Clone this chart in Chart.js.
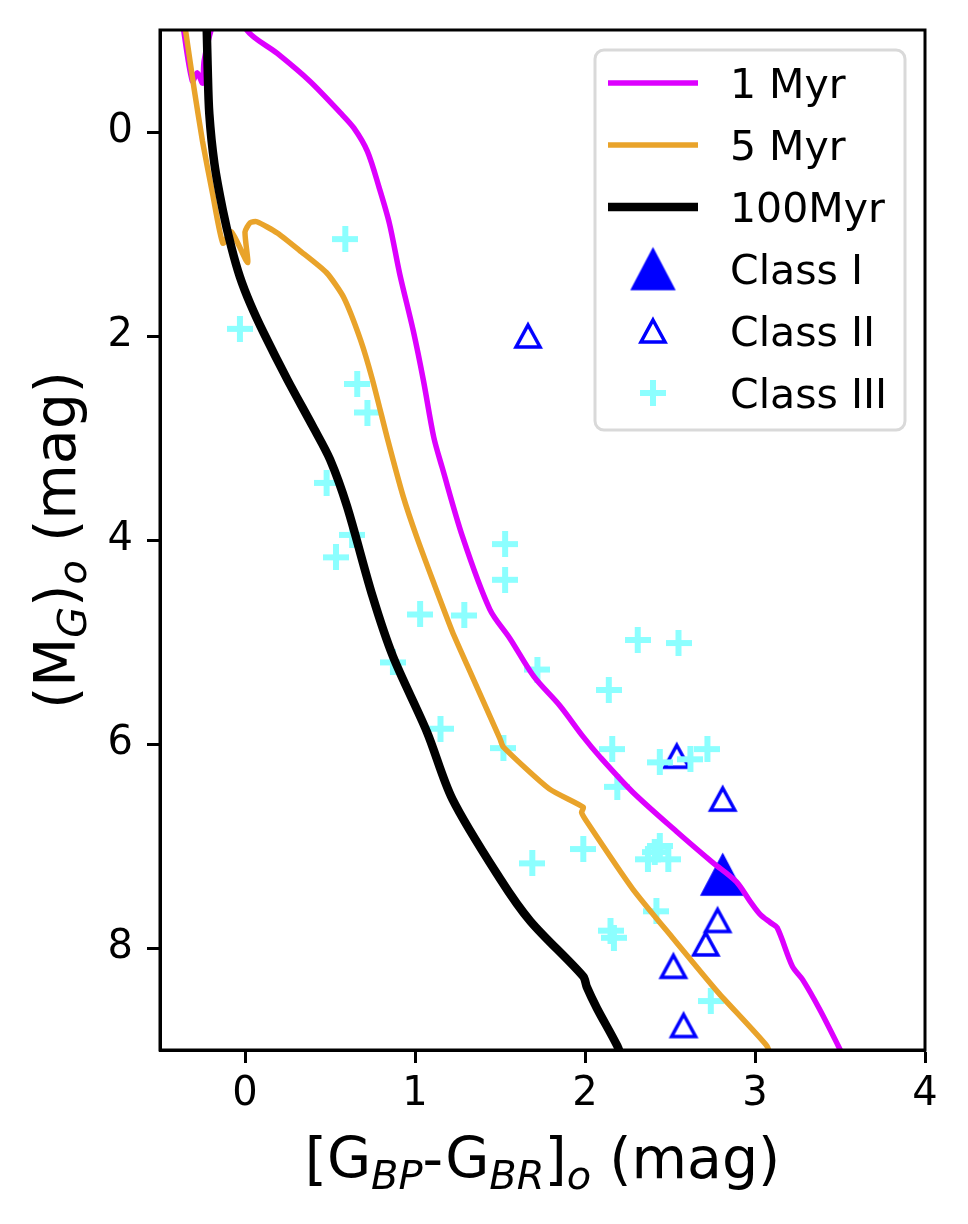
<!DOCTYPE html>
<html>
<head>
<meta charset="utf-8">
<script src="https://cdn.jsdelivr.net/npm/chart.js@4/dist/chart.umd.min.js"></script>
<style>
  html, body { margin: 0; padding: 0; background: #fff; }
  #wrap { width: 968px; height: 1224px; }
</style>
</head>
<body>
<div id="wrap"><canvas id="cmd" width="968" height="1224"></canvas></div>
<script>
// isochrones (colour, abs. magnitude)
var myr1X = [-0.37, -0.31, -0.28, -0.25, -0.24, -0.19, -0.12, -0.03, 0.01, 0.19, 0.38, 0.56, 0.64, 0.72, 0.79, 0.85, 0.91, 0.99, 1.05, 1.11, 1.16, 1.28, 1.44, 1.56, 1.70, 1.85, 1.99, 2.09, 2.28, 2.54, 2.75, 2.89, 2.97, 3.03, 3.09, 3.13, 3.22, 3.28, 3.38, 3.49, 3.53];
var myr1Y = [-1.1, -0.5, -0.58, -0.48, -0.7, -1.05, -1.3, -1.3, -1.0, -0.77, -0.5, -0.19, -0.04, 0.19, 0.55, 0.9, 1.39, 1.95, 2.44, 2.99, 3.29, 3.97, 4.68, 4.97, 5.34, 5.62, 5.93, 6.13, 6.47, 6.86, 7.16, 7.35, 7.54, 7.67, 7.75, 7.8, 8.18, 8.31, 8.6, 8.96, 9.1];

var myr5X = [-0.36, -0.35, -0.30, -0.25, -0.19, -0.13, -0.08, 0.015, 0.0, 0.03, 0.07, 0.19, 0.32, 0.48, 0.58, 0.68, 0.75, 0.84, 0.93, 1.01, 1.11, 1.22, 1.31, 1.50, 1.52, 1.79, 1.99, 1.98, 2.01, 2.28, 2.52, 2.78, 3.07, 3.10];
var myr5Y = [-1.1, -1.0, -0.43, 0.09, 0.61, 1.09, 0.98, 1.28, 0.98, 0.89, 0.88, 0.99, 1.16, 1.38, 1.62, 2.04, 2.43, 3.02, 3.57, 3.97, 4.42, 4.90, 5.24, 5.95, 6.03, 6.44, 6.62, 6.67, 6.76, 7.42, 7.91, 8.43, 8.96, 9.1];

var myr100X = [-0.23, -0.225, -0.22, -0.21, -0.18, -0.13, -0.08, -0.03, 0.03, 0.11, 0.25, 0.40, 0.50, 0.60, 0.75, 0.87, 1.07, 1.22, 1.50, 1.68, 1.99, 2.01, 2.07, 2.19, 2.22];
var myr100Y = [-1.2, -1.0, -0.66, -0.18, 0.31, 0.77, 1.13, 1.42, 1.68, 1.97, 2.43, 2.89, 3.21, 3.67, 4.55, 5.14, 5.88, 6.54, 7.32, 7.74, 8.28, 8.38, 8.59, 8.96, 9.1];

// YSO classes
var class1X = [2.81];
var class1Y = [7.28];
var class2X = [1.665, 2.54, 2.81, 2.78, 2.71, 2.52, 2.58];
var class2Y = [2.0, 6.12, 6.54, 7.73, 7.96, 8.18, 8.76];
var class3X = [0.59, -0.03, 0.66, 0.72, 0.48, 0.63, 0.535, 1.53, 1.53, 1.03, 1.29, 0.87, 1.72, 1.15, 2.31, 2.55, 2.14, 1.52, 2.16, 2.72, 2.44, 2.62, 2.19, 2.44, 2.37, 2.49, 2.41, 1.99, 1.69, 2.42, 2.15, 2.17, 2.74];
var class3Y = [1.05, 1.93, 2.47, 2.75, 3.44, 3.95, 4.17, 4.04, 4.39, 4.73, 4.74, 5.2, 5.27, 5.85, 4.98, 5.01, 5.47, 6.04, 6.05, 6.05, 6.18, 6.15, 6.42, 7.0, 7.13, 7.13, 7.06, 7.03, 7.17, 7.64, 7.83, 7.9, 8.52];

var xTicks = [0, 1, 2, 3, 4];
var yTicks = [0, 2, 4, 6, 8];

var FONT = '"DejaVu Sans", "Liberation Sans", sans-serif';

function pts(xs, ys) {
    return xs.map(function(x, i) { return {x: x, y: ys[i]}; });
}

// matplotlib-like markers as little canvases
function triangleMarker(w, h, fill, stroke, lw) {
    var pad = Math.ceil(lw * 2) + 1;
    var c = document.createElement('canvas');
    c.width = w + pad * 2;
    c.height = h + pad * 2;
    var g = c.getContext('2d');
    g.beginPath();
    g.moveTo(c.width / 2, pad);
    g.lineTo(pad + w, pad + h);
    g.lineTo(pad, pad + h);
    g.closePath();
    g.lineJoin = 'miter';
    if (fill) { g.fillStyle = fill; g.fill(); }
    g.lineWidth = lw;
    g.strokeStyle = stroke;
    g.stroke();
    return c;
}

function plusMarker(size, thick, color) {
    var c = document.createElement('canvas');
    c.width = size;
    c.height = size;
    var g = c.getContext('2d');
    g.fillStyle = color;
    g.fillRect((size - thick) / 2, 0, thick, size);
    g.fillRect(0, (size - thick) / 2, size, thick);
    return c;
}

var filledTri = triangleMarker(43, 41, '#0000ff', '#0000ff', 1.5);
var openTri = triangleMarker(24, 22, null, '#0000ff', 3.5);
var plus = plusMarker(26, 6, '#8cffff');

function richText(ctx, parts, size, cx, base) {
    var fonts = parts.map(function(p) {
        return (p.it ? 'italic ' : '') + (p.sub ? size * 0.7 : size) + 'px ' + FONT;
    });
    var total = 0;
    parts.forEach(function(p, i) { ctx.font = fonts[i]; total += ctx.measureText(p.t).width; });
    var x = cx - total / 2;
    ctx.textAlign = 'left';
    ctx.textBaseline = 'alphabetic';
    parts.forEach(function(p, i) {
        ctx.font = fonts[i];
        ctx.fillText(p.t, x, base + (p.sub ? size * 0.2 : 0));
        x += ctx.measureText(p.t).width;
    });
}

var xTitle = [{t: '[G'}, {t: 'BP', sub: true, it: true}, {t: '-G'}, {t: 'BR', sub: true, it: true}, {t: ']'}, {t: 'o', sub: true, it: true}, {t: ' (mag)'}];
var yTitle = [{t: '(M'}, {t: 'G', sub: true, it: true}, {t: ')'}, {t: 'o', sub: true, it: true}, {t: ' (mag)'}];

var decorations = {
    id: 'decorations',
    afterDraw: function(chart) {
        var ctx = chart.ctx, a = chart.chartArea;
        ctx.save();
        // full frame
        ctx.strokeStyle = '#000';
        ctx.lineWidth = 3;
        ctx.strokeRect(a.left, a.top, a.right - a.left, a.bottom - a.top);

        // axis titles
        ctx.fillStyle = '#000';
        richText(ctx, xTitle, 57, (a.left + a.right) / 2, 1178);
        ctx.save();
        ctx.translate(75, (a.top + a.bottom) / 2);
        ctx.rotate(-Math.PI / 2);
        richText(ctx, yTitle, 57, 0, 0);
        ctx.restore();

        // legend
        var w = 310, h = 380;
        var x0 = a.right - 20 - w, y0 = a.top + 20;
        ctx.beginPath();
        ctx.roundRect(x0, y0, w, h, 9);
        ctx.fillStyle = 'rgba(255,255,255,0.85)';
        ctx.fill();
        ctx.strokeStyle = '#d9d9d9';
        ctx.lineWidth = 3;
        ctx.stroke();
        chart.data.datasets.forEach(function(ds, i) {
            var cy = y0 + 33 + i * 62;
            if (ds.showLine) {
                ctx.beginPath();
                ctx.moveTo(x0 + 13, cy);
                ctx.lineTo(x0 + 103, cy);
                ctx.strokeStyle = ds.borderColor;
                ctx.lineWidth = ds.borderWidth;
                ctx.stroke();
            } else {
                var m = ds.pointStyle;
                ctx.drawImage(m, x0 + 58 - m.width / 2, cy - m.height / 2);
            }
            ctx.fillStyle = '#000';
            ctx.font = '41px ' + FONT;
            ctx.textAlign = 'left';
            ctx.textBaseline = 'alphabetic';
            ctx.fillText(ds.label, x0 + 135, cy + 15);
        });
        ctx.restore();
    }
};

var ctx = document.getElementById('cmd').getContext('2d');
var cmdChart = new Chart(ctx, {
    type: 'scatter',
    data: {
        datasets: [
            { label: '1 Myr', data: pts(myr1X, myr1Y), showLine: true, borderColor: '#dd00ff', borderWidth: 5.5, pointRadius: 0, tension: 0.3, order: 2 },
            { label: '5 Myr', data: pts(myr5X, myr5Y), showLine: true, borderColor: '#e9a32a', borderWidth: 5.5, pointRadius: 0, tension: 0.2, order: 1 },
            { label: '100Myr', data: pts(myr100X, myr100Y), showLine: true, borderColor: '#000000', borderWidth: 8.5, pointRadius: 0, tension: 0.3, order: 0 },
            { label: 'Class I', data: pts(class1X, class1Y), pointStyle: filledTri, pointRadius: 20, order: 5 },
            { label: 'Class II', data: pts(class2X, class2Y), pointStyle: openTri, pointRadius: 14, order: 4 },
            { label: 'Class III', data: pts(class3X, class3Y), pointStyle: plus, pointRadius: 12, order: 3 }
        ]
    },
    options: {
        responsive: false,
        animation: false,
        events: [],
        layout: { padding: { left: 0, top: 30, right: 43, bottom: 0 } },
        plugins: {
            legend: { display: false },
            tooltip: { enabled: false }
        },
        scales: {
            x: {
                type: 'linear',
                min: -0.5,
                max: 4,
                afterFit: function(scale) {
                    scale.height = 174;
                    scale.paddingLeft = 0;
                    scale.paddingRight = 0;
                },
                afterBuildTicks: function(scale) { scale.ticks = xTicks.map(function(v) { return {value: v}; }); },
                grid: { drawOnChartArea: false, drawTicks: true, tickLength: 13, tickWidth: 3, tickColor: '#000' },
                border: { display: true, color: '#000', width: 3 },
                ticks: { color: '#000', padding: 8, font: { family: FONT, size: 40 } }
            },
            y: {
                type: 'linear',
                reverse: true,
                min: -1,
                max: 9,
                afterFit: function(scale) {
                    scale.width = 160;
                    scale.paddingTop = 0;
                    scale.paddingBottom = 0;
                },
                afterBuildTicks: function(scale) { scale.ticks = yTicks.map(function(v) { return {value: v}; }); },
                grid: { drawOnChartArea: false, drawTicks: true, tickLength: 13, tickWidth: 3, tickColor: '#000' },
                border: { display: true, color: '#000', width: 3 },
                ticks: { color: '#000', padding: 14, font: { family: FONT, size: 40 } }
            }
        }
    },
    plugins: [decorations]
});
</script>
</body>
</html>
